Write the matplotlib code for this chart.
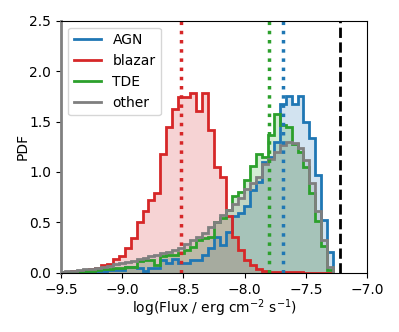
import numpy as np
import matplotlib
matplotlib.use("Agg")
import matplotlib.pyplot as plt
from matplotlib.lines import Line2D

# bin grid (log flux)
bin_start = -9.5164
bin_width = 0.0487
n_bins = 46

agn = [0, 0, 0.01, 0.01, 0.01, 0.02, 0.02, 0.02, 0.03, 0.03, 0.03, 0.06,
       0.06, 0.05, 0.02, 0.05, 0.05, 0.13, 0.10, 0.14, 0.10, 0.10, 0.13, 0.13, 0.18, 0.25, 0.36, 0.28,
       0.41, 0.56, 0.59, 0.66, 0.82, 0.90, 1.10, 1.15, 1.30, 1.67, 1.75, 1.67, 1.75, 1.50, 1.34, 0.97, 0.52, 0.21]
blazar = [0.01, 0.01, 0.02, 0.02, 0.03, 0.04, 0.05, 0.08, 0.09, 0.14, 0.17, 0.25,
          0.35, 0.50, 0.61, 0.72, 0.79, 1.18, 1.45, 1.62, 1.74, 1.74, 1.78, 1.60, 1.78, 1.42, 1.05, 0.95,
          0.56, 0.36, 0.23, 0.13, 0.08, 0.04, 0.02, 0.01, 0.01, 0.01, 0.01, 0.005, 0.005, 0, 0, 0, 0, 0]
tde = [0.01, 0.01, 0.01, 0.01, 0.02, 0.02, 0.03, 0.04, 0.04, 0.05, 0.05, 0.06,
       0.06, 0.12, 0.13, 0.13, 0.08, 0.17, 0.18, 0.18, 0.20, 0.23, 0.26, 0.33, 0.35, 0.36, 0.50, 0.54,
       0.62, 0.76, 0.80, 0.92, 1.06, 1.18, 1.15, 1.37, 1.57, 1.47, 1.45, 1.28, 1.20, 1.05, 0.79, 0.51, 0.27, 0.03]
other = [0.01, 0.02, 0.02, 0.03, 0.04, 0.04, 0.05, 0.06, 0.07, 0.09, 0.10, 0.11,
         0.12, 0.14, 0.15, 0.17, 0.18, 0.20, 0.21, 0.23, 0.25, 0.29, 0.33, 0.36, 0.40, 0.45, 0.50, 0.57,
         0.62, 0.68, 0.74, 0.83, 0.89, 0.95, 1.08, 1.13, 1.20, 1.27, 1.30, 1.29, 1.24, 1.12, 0.89, 0.61, 0.33, 0.06]

labels = ["AGN", "blazar", "TDE", "other"]
colors = ["#1f77b4", "#d62728", "#2ca02c", "#7f7f7f"]
series = [agn, blazar, tde, other]
medians = [-7.69, -8.52, -7.80, None]
threshold = -7.22

edges = bin_start + bin_width * np.arange(n_bins + 1)
centers = 0.5 * (edges[:-1] + edges[1:])

fig = plt.figure(figsize=(3.99, 3.32), dpi=100)
ax = fig.add_axes([0.153, 0.178, 0.767, 0.760])

for vals, c in zip(series, colors):
    ax.hist(centers, bins=edges, weights=vals, histtype="stepfilled", color=c, alpha=0.2)
    ax.hist(centers, bins=edges, weights=vals, histtype="step", color=c, lw=2)

for m, c in zip(medians, colors):
    if m is not None:
        ax.axvline(m, color=c, ls=":", lw=2.5)
ax.axvline(threshold, color="k", ls="--", lw=2)

ax.set_xlim(-9.5, -7.0)
ax.set_ylim(0, 2.5)
ax.set_xticks(np.arange(-9.5, -6.99, 0.5))
ax.set_yticks(np.arange(0, 2.51, 0.5))
ax.set_xlabel(r"log(Flux / erg cm$^{-2}$ s$^{-1}$)", labelpad=0.5)
ax.set_ylabel("PDF", labelpad=0)
ax.spines["left"].set_color("#808080")
ax.spines["left"].set_linewidth(2)

handles = [Line2D([0], [0], color=c, lw=2) for c in colors]
ax.legend(handles, labels, loc="upper left")

fig.savefig("out.png", dpi=100)
